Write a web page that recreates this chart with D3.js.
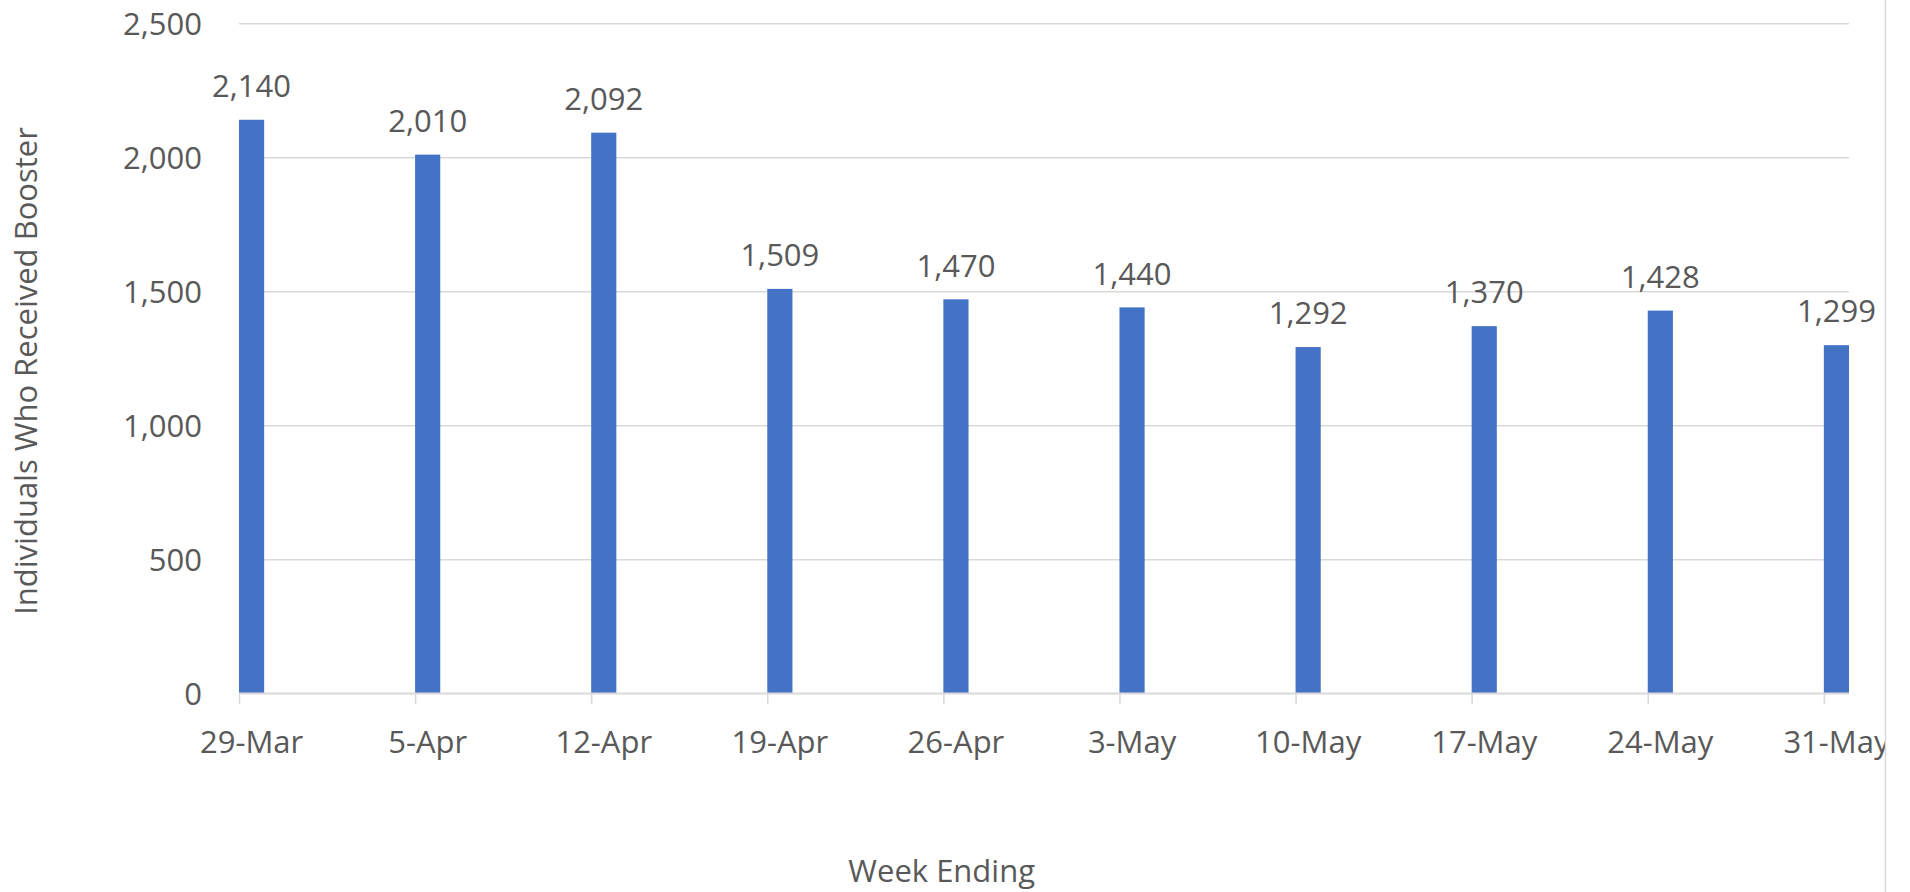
<!DOCTYPE html>
<html>
<head>
<meta charset="utf-8">
<script src="https://cdn.jsdelivr.net/npm/d3@7"></script>
<style>
  html, body { margin: 0; padding: 0; background: #fff; }
  #boosterChart text { font-family: "Open Sans", "Segoe UI", sans-serif; fill: #595959; }
</style>
</head>
<body>
<div id="boosterChart"></div>
<script>
// weekly counts
const weekEnding = ['2022-03-29', '2022-04-05', '2022-04-12', '2022-04-19', '2022-04-26',
  '2022-05-03', '2022-05-10', '2022-05-17', '2022-05-24', '2022-05-31'];
const boosters = [2140, 2010, 2092, 1509, 1470, 1440, 1292, 1370, 1428, 1299];
const countTicks = [0, 500, 1000, 1500, 2000, 2500];

class BoosterChart {
  constructor () {
    this.parseDate = d3.utcParse('%Y-%m-%d');
    this.formatDate = d3.utcFormat('%-d-%b');
    this.formatCount = d3.format(',');
    this.data = weekEnding.map((d, i) => {
      return {date: this.parseDate(d), count: boosters[i]};
    });
    this.chartWidth = 1886; // chart area ends at the grey border
    this.chartHeight = 892;
    this.plot = {left: 239, right: 1849, top: 23.3, bottom: 693.3};
    this.fontSize = 31;
  }

  createSvg () {
    this.svg = d3.select('#boosterChart')
      .append('svg')
      .attr('width', 1910)
      .attr('height', this.chartHeight);

    this.svg.append('clipPath')
      .attr('id', 'chartClip')
      .append('rect')
      .attr('width', this.chartWidth - 1)
      .attr('height', this.chartHeight);

    this.chart = this.svg.append('g').attr('clip-path', 'url(#chartClip)');

    // right border of the chart area
    this.svg.append('line')
      .attr('x1', this.chartWidth - 0.5)
      .attr('x2', this.chartWidth - 0.5)
      .attr('y1', 0)
      .attr('y2', this.chartHeight)
      .attr('stroke', '#d9d9d9')
      .attr('stroke-width', 1.5);
  }

  initScales () {
    let first = this.data[0].date;
    let last = d3.utcDay.offset(this.data[this.data.length - 1].date, 1);
    this.dateScale = d3.scaleUtc().domain([first, last]).range([this.plot.left, this.plot.right]);
    this.countScale = d3.scaleLinear().domain([0, 2500]).range([this.plot.bottom, this.plot.top]);
  }

  dayWidth (date) {
    return this.dateScale(d3.utcDay.offset(date, 1)) - this.dateScale(date);
  }

  drawGrid () {
    let countAxis = d3.axisLeft(this.countScale)
      .tickValues(countTicks)
      .tickSize(-(this.plot.right - this.plot.left))
      .tickPadding(37)
      .tickFormat(this.formatCount);

    let g = this.chart.append('g')
      .attr('class', 'c-axis-y')
      .attr('transform', 'translate(' + this.plot.left + ', 0)')
      .call(countAxis);

    g.select('.domain').remove();
    g.selectAll('.tick line').attr('stroke', '#d9d9d9').attr('stroke-width', 1.6);
    g.selectAll('.tick text')
      .attr('font-size', this.fontSize)
      .attr('dy', '0.36em');
  }

  drawBars () {
    this.chart.append('g')
      .attr('class', 'c-bars')
      .selectAll('rect')
      .data(this.data)
      .enter()
      .append('rect')
      .attr('x', (d) => this.dateScale(d.date))
      .attr('y', (d) => this.countScale(d.count))
      .attr('width', (d) => this.dayWidth(d.date))
      .attr('height', (d) => this.plot.bottom - this.countScale(d.count))
      .attr('fill', '#4472c4');

    this.chart.append('g')
      .attr('class', 'c-labels')
      .selectAll('text')
      .data(this.data)
      .enter()
      .append('text')
      .attr('x', (d) => this.dateScale(d.date) + this.dayWidth(d.date) / 2)
      .attr('y', (d) => this.countScale(d.count) - 22.7)
      .attr('text-anchor', 'middle')
      .attr('font-size', this.fontSize)
      .text((d) => this.formatCount(d.count));
  }

  drawDateAxis () {
    let dateAxis = d3.axisBottom(this.dateScale)
      .tickValues(this.data.map((d) => d.date))
      .tickSize(11)
      .tickFormat('');

    let g = this.chart.append('g')
      .attr('class', 'c-axis-x')
      .attr('transform', 'translate(0, ' + this.plot.bottom + ')')
      .call(dateAxis);

    g.select('.domain')
      .attr('d', 'M' + this.plot.left + ',0H' + this.plot.right)
      .attr('stroke', '#d9d9d9')
      .attr('stroke-width', 1.6);
    g.selectAll('.tick line').attr('stroke', '#d9d9d9').attr('stroke-width', 1.6);

    // labels sit in the middle of each one-day slot
    this.chart.append('g')
      .attr('class', 'c-date-labels')
      .selectAll('text')
      .data(this.data)
      .enter()
      .append('text')
      .attr('x', (d) => this.dateScale(d.date) + this.dayWidth(d.date) / 2)
      .attr('y', this.plot.bottom + 59.4)
      .attr('text-anchor', 'middle')
      .attr('font-size', this.fontSize)
      .text((d) => this.formatDate(d.date));
  }

  drawTitles () {
    this.chart.append('text')
      .attr('x', 941.7)
      .attr('y', 881.5)
      .attr('text-anchor', 'middle')
      .attr('font-size', this.fontSize)
      .text('Week Ending');

    this.chart.append('text')
      .attr('transform', 'translate(36.5, 371) rotate(-90)')
      .attr('text-anchor', 'middle')
      .attr('font-size', this.fontSize)
      .text('Individuals Who Received Booster');
  }

  render () {
    this.createSvg();
    this.initScales();
    this.drawGrid();
    this.drawBars();
    this.drawDateAxis();
    this.drawTitles();
  }
}

new BoosterChart().render();
</script>
</body>
</html>
